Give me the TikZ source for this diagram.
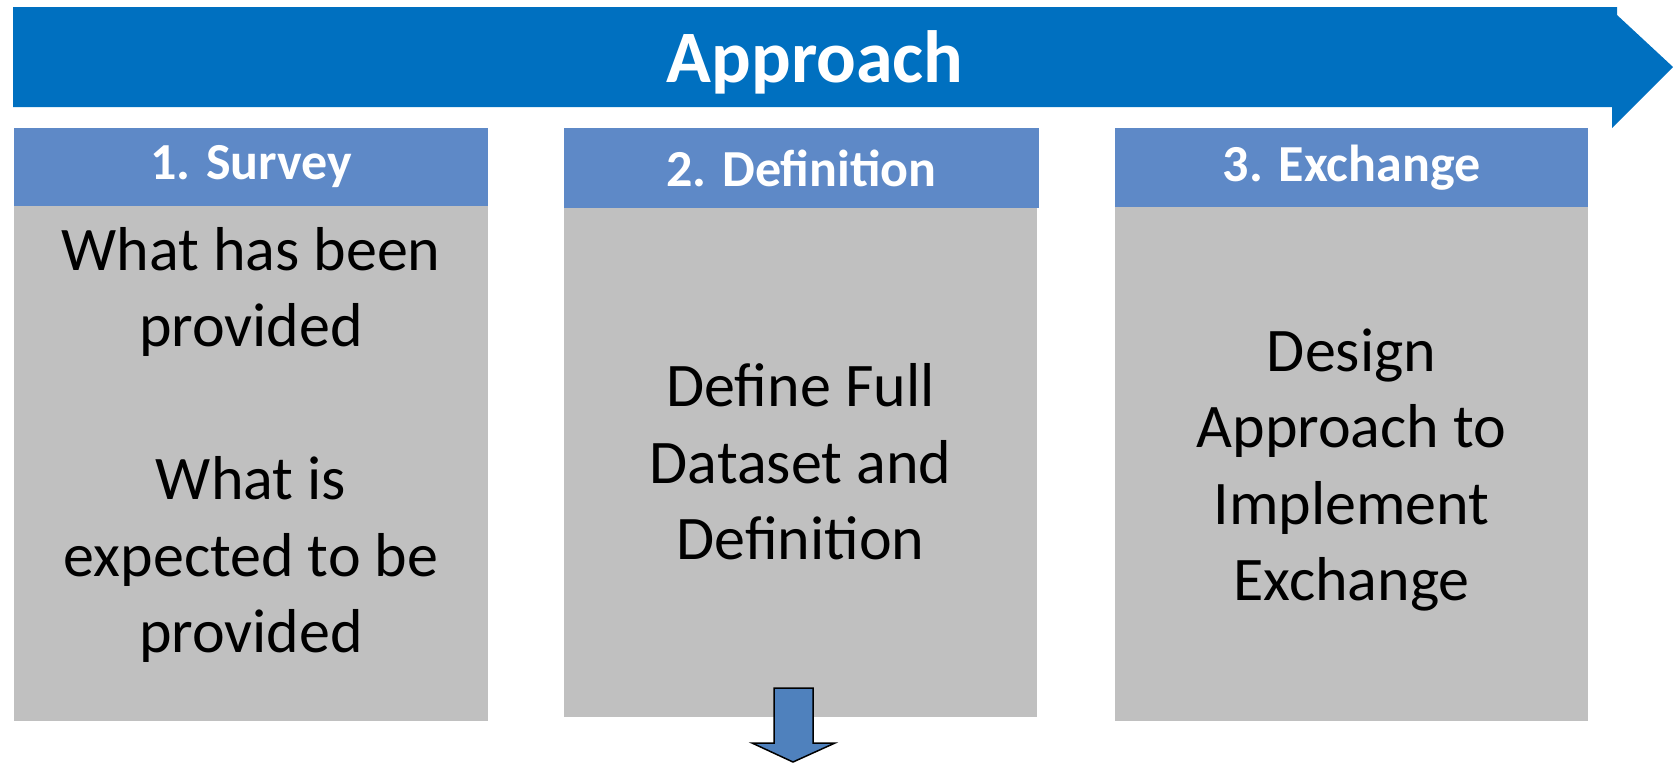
\documentclass[tikz,border=0pt]{standalone}
\usepackage{fontspec}
\setmainfont{Carlito}
\definecolor{banner}{RGB}{0,112,192}
\definecolor{headblue}{RGB}{94,137,199}
\definecolor{bodygrey}{RGB}{192,192,192}
\definecolor{arrowblue}{RGB}{79,129,189}

\begin{document}
\begin{tikzpicture}[x=1pt,y=-1pt,
  head/.style={fill=headblue,inner sep=0pt,text=white,
    font=\fontsize{52}{60}\selectfont\bfseries},
  body/.style={fill=bodygrey,inner sep=0pt},
  bodytext/.style={align=center,inner sep=0pt,
    font=\fontsize{62}{76.5}\selectfont}]
\useasboundingbox (0,0) rectangle (1673,763);
% banner arrow
\fill [banner] (13,7) -- (1617,7) -- (1617,15) -- (1673,67)
  -- (1612,128) -- (1612,107) -- (13,107) -- cycle;
\node [text=white,font=\fontsize{74}{80}\selectfont\bfseries] (title) at (815,62) {Approach};
% grey boxes
\node [body,minimum width=474pt,minimum height=515pt] (b1) at (251,463.5) {};
\node [body,minimum width=473pt,minimum height=514pt] (b2) at (800.5,460) {};
\node [body,minimum width=473pt,minimum height=514pt] (b3) at (1351.5,464) {};
% headers
\node [head,minimum width=474pt,minimum height=78pt] (h1) at (251,167) {1. Survey};
\node [head,minimum width=475pt,minimum height=80pt] (h2) at (801.5,168) {2. Definition};
\node [head,minimum width=473pt,minimum height=79pt] (h3) at (1351.5,167.5) {3. Exchange};
% texts
\node [bodytext] (t1) at (251,445) {What has been\\provided\\~\\What is\\expected to be\\provided};
\node [bodytext] (t2) at (800.5,462) {Define Full\\Dataset and\\Definition};
\node [bodytext] (t3) at (1351.5,470) {Design\\Approach to\\Implement\\Exchange};
% down arrow
\draw [black,line width=1.5pt,line join=miter,fill=arrowblue] (774,688) -- (813,688)
  -- (813,743) -- (835,743) -- (793,762) -- (752,743) -- (774,743) -- cycle;
\end{tikzpicture}
\end{document}
